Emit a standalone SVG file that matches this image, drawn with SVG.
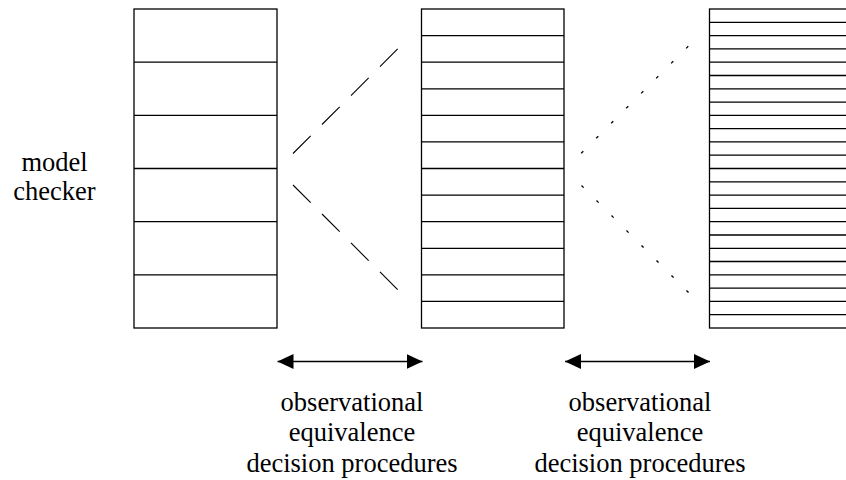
<svg xmlns="http://www.w3.org/2000/svg" width="846" height="480" viewBox="0 0 846 480">
  <style>
    .box { fill: #ffffff; stroke: #000000; stroke-width: 1.3; }
    .div { fill: none; stroke: #000000; stroke-width: 1.3; }
    .dash { fill: none; stroke: #000000; stroke-width: 1.1; stroke-dasharray: 25 16; }
    .dot { fill: none; stroke: #000000; stroke-width: 1.3; stroke-dasharray: 3 18.2; }
    .arrow { fill: none; stroke: #000000; stroke-width: 1.3; marker-start: url(#head); marker-end: url(#head); }
    text { font-family: 'Liberation Serif', 'Tinos', 'DejaVu Serif', 'Noto Serif', serif; font-size: 26.5px; fill: #000000; text-anchor: middle; }
  </style>
  <defs>
    <marker id="head" viewBox="0 0 16 16" refX="16" refY="8" markerWidth="16" markerHeight="16" markerUnits="userSpaceOnUse" orient="auto-start-reverse">
      <path d="M0,0.5 L16,8 L0,15.5 Z" fill="#000000"/>
    </marker>
  </defs>
  <rect width="846" height="480" fill="#ffffff"/>

  <!-- model checker label -->
  <g id="label-model-checker" font-family="Liberation Serif, serif">
    <text x="54.5" y="171">model</text>
    <text x="54.5" y="200">checker</text>
  </g>

  <!-- coarse state space: 6 cells -->
  <g id="space-coarse">
    <rect class="box" x="134" y="9" width="143" height="319"/>
    <path class="div" d="M134,62.2H277M134,115.3H277M134,168.5H277M134,221.7H277M134,274.8H277"/>
  </g>

  <!-- medium state space: 12 cells -->
  <g id="space-medium">
    <rect class="box" x="421.5" y="9" width="142.5" height="319"/>
    <path class="div" d="M421.5,35.6H564M421.5,62.2H564M421.5,88.8H564M421.5,115.3H564M421.5,141.9H564M421.5,168.5H564M421.5,195.1H564M421.5,221.7H564M421.5,248.3H564M421.5,274.8H564M421.5,301.4H564"/>
  </g>

  <!-- fine state space: 24 cells -->
  <g id="space-fine">
    <rect class="box" x="709.5" y="9" width="143" height="319"/>
    <path class="div" d="M709.5,22.3H853M709.5,35.6H853M709.5,48.9H853M709.5,62.2H853M709.5,75.5H853M709.5,88.8H853M709.5,102.1H853M709.5,115.3H853M709.5,128.6H853M709.5,141.9H853M709.5,155.2H853M709.5,168.5H853M709.5,181.8H853M709.5,195.1H853M709.5,208.4H853M709.5,221.7H853M709.5,235H853M709.5,248.3H853M709.5,261.5H853M709.5,274.8H853M709.5,288.1H853M709.5,301.4H853M709.5,314.7H853"/>
  </g>

  <!-- connectors -->
  <g id="connectors">
    <line class="dash" x1="293" y1="153.5" x2="398" y2="48.5"/>
    <line class="dash" x1="293" y1="185" x2="398" y2="290"/>
    <line class="dot" x1="581.2" y1="153.3" x2="689" y2="45.5"/>
    <line class="dot" x1="581.5" y1="185.5" x2="689" y2="293"/>
    <line class="arrow" x1="277.5" y1="361.5" x2="422.5" y2="361.5"/>
    <line class="arrow" x1="565" y1="361.5" x2="710" y2="361.5"/>
  </g>

  <!-- decision procedure labels -->
  <g id="label-procedures-1">
    <text x="352" y="410.5">observational</text>
    <text x="352" y="441">equivalence</text>
    <text x="352" y="471.5">decision procedures</text>
  </g>
  <g id="label-procedures-2">
    <text x="640" y="410.5">observational</text>
    <text x="640" y="441">equivalence</text>
    <text x="640" y="471.5">decision procedures</text>
  </g>
</svg>
